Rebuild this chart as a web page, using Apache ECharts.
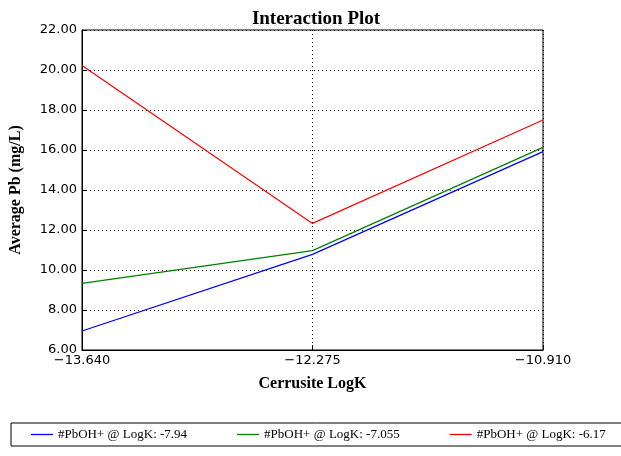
<!DOCTYPE html>
<html><head><meta charset="utf-8">
<script src="https://cdn.jsdelivr.net/npm/echarts@6/dist/echarts.min.js"></script>
<style>html,body{margin:0;padding:0;background:#fff}#chart{width:621px;height:456px}</style>
</head><body><div id="chart"></div>
<script>
var categories = ['\u221213.640', '\u221212.275', '\u221210.910'];
var seriesNames = ['#PbOH+ @ LogK: -7.94', '#PbOH+ @ LogK: -7.055', '#PbOH+ @ LogK: -6.17'];
var blueVals = [6.95, 10.78, 15.92];
var greenVals = [9.33, 10.97, 16.13];
var redVals = [20.22, 12.33, 17.5];
var colors = ['#0000ff', '#008000', '#ff0000'];

var chart = echarts.init(document.getElementById('chart'));
var serif = 'Liberation Serif, Times New Roman, serif';
var sans = 'DejaVu Sans, sans-serif';
chart.setOption({
  animation: false,
  color: colors,
  title: {text: 'Interaction Plot', left: 311, top: 5, textAlign: 'center',
    textStyle: {fontFamily: serif, fontSize: 19, fontWeight: 'bold', color: '#000'}},
  grid: {left: 78, right: 78, top: 30, bottom: 106, show: true, borderColor: '#000', borderWidth: 1},
  legend: {
    data: seriesNames, bottom: 10, left: 11, width: 580, itemGap: 50,
    borderColor: '#000', borderWidth: 1, padding: [5, 20, 5, 20],
    icon: 'path://M0,0 L1,0 L1,0.06 L0,0.06 Z', itemWidth: 22, itemHeight: 2,
    textStyle: {fontFamily: serif, fontSize: 13, color: '#000'}
  },
  xAxis: {
    type: 'category', data: categories, boundaryGap: false,
    name: 'Cerrusite LogK', nameLocation: 'middle', nameGap: 26,
    nameTextStyle: {fontFamily: serif, fontSize: 16, fontWeight: 'bold', color: '#000'},
    axisLine: {lineStyle: {color: '#000'}},
    axisTick: {inside: true, length: 5, lineStyle: {color: '#000'}},
    axisLabel: {fontFamily: sans, fontSize: 13, color: '#000', margin: 4, showMinLabel: true, showMaxLabel: true},
    splitLine: {show: true, lineStyle: {color: '#000', type: [1, 3]}}
  },
  yAxis: {
    type: 'value', min: 6, max: 22, interval: 2,
    name: 'Average Pb (mg/L)', nameLocation: 'middle', nameGap: 58,
    nameTextStyle: {fontFamily: serif, fontSize: 16, fontWeight: 'bold', color: '#000'},
    axisLine: {show: true, lineStyle: {color: '#000'}},
    axisTick: {show: true, inside: true, length: 5, lineStyle: {color: '#000'}},
    axisLabel: {fontFamily: sans, fontSize: 13, color: '#000', margin: 5,
      formatter: function (v) { return v.toFixed(2); }},
    splitLine: {show: true, lineStyle: {color: '#000', type: [1, 3]}}
  },
  series: [
    {name: seriesNames[0], type: 'line', data: blueVals, symbol: 'none', lineStyle: {width: 1.2}},
    {name: seriesNames[1], type: 'line', data: greenVals, symbol: 'none', lineStyle: {width: 1.2}},
    {name: seriesNames[2], type: 'line', data: redVals, symbol: 'none', lineStyle: {width: 1.2}}
  ]
});
</script></body></html>
